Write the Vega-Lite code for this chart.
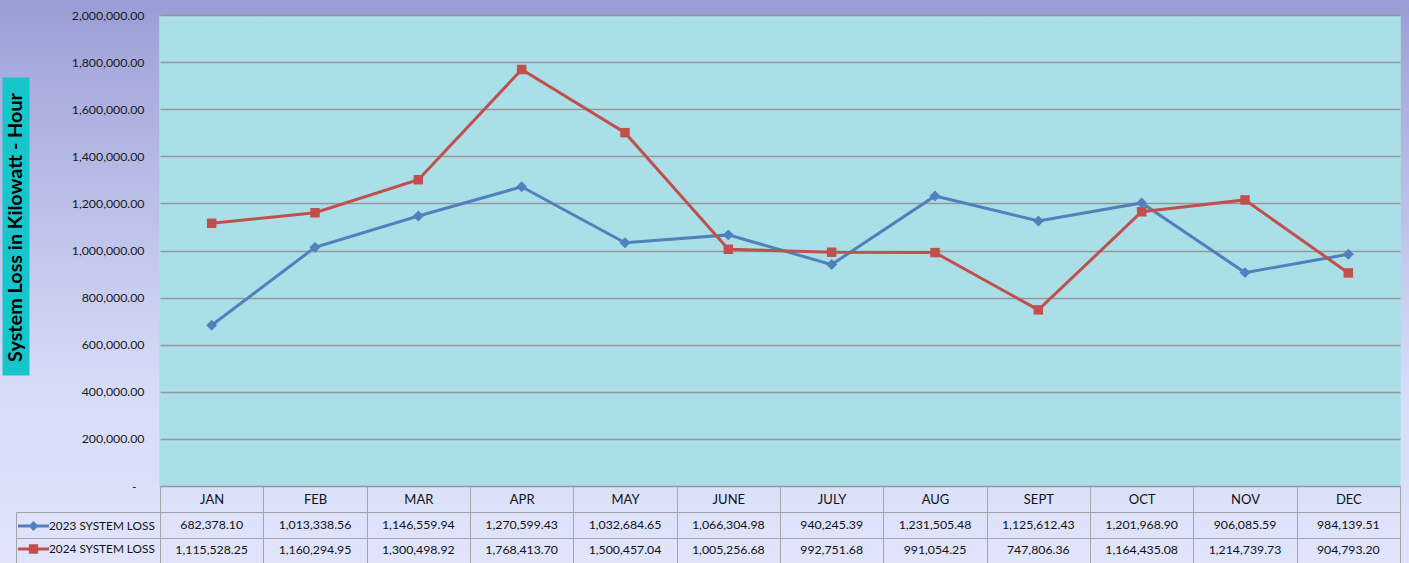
{
  "$schema": "https://vega.github.io/schema/vega-lite/v6.json",
  "width": 1409,
  "height": 563,
  "autosize": {"type": "none"},
  "padding": 0,
  "background": "#c2c7ef",
  "config": {
    "font": "Lato",
    "view": {
      "stroke": null,
      "fill": {
        "gradient": "linear", "x1": 0, "y1": 0, "x2": 0, "y2": 1,
        "stops": [
          {"offset": 0, "color": "#989cd4"},
          {"offset": 0.11, "color": "#a6a9dc"},
          {"offset": 0.67, "color": "#d5daf7"},
          {"offset": 1, "color": "#e0e5fc"}
        ]
      }
    }
  },
  "data": {
    "values": [
      {"month": "JAN", "series": "2023 SYSTEM LOSS", "value": 682378.10},
      {"month": "FEB", "series": "2023 SYSTEM LOSS", "value": 1013338.56},
      {"month": "MAR", "series": "2023 SYSTEM LOSS", "value": 1146559.94},
      {"month": "APR", "series": "2023 SYSTEM LOSS", "value": 1270599.43},
      {"month": "MAY", "series": "2023 SYSTEM LOSS", "value": 1032684.65},
      {"month": "JUNE", "series": "2023 SYSTEM LOSS", "value": 1066304.98},
      {"month": "JULY", "series": "2023 SYSTEM LOSS", "value": 940245.39},
      {"month": "AUG", "series": "2023 SYSTEM LOSS", "value": 1231505.48},
      {"month": "SEPT", "series": "2023 SYSTEM LOSS", "value": 1125612.43},
      {"month": "OCT", "series": "2023 SYSTEM LOSS", "value": 1201968.90},
      {"month": "NOV", "series": "2023 SYSTEM LOSS", "value": 906085.59},
      {"month": "DEC", "series": "2023 SYSTEM LOSS", "value": 984139.51},
      {"month": "JAN", "series": "2024 SYSTEM LOSS", "value": 1115528.25},
      {"month": "FEB", "series": "2024 SYSTEM LOSS", "value": 1160294.95},
      {"month": "MAR", "series": "2024 SYSTEM LOSS", "value": 1300498.92},
      {"month": "APR", "series": "2024 SYSTEM LOSS", "value": 1768413.70},
      {"month": "MAY", "series": "2024 SYSTEM LOSS", "value": 1500457.04},
      {"month": "JUNE", "series": "2024 SYSTEM LOSS", "value": 1005256.68},
      {"month": "JULY", "series": "2024 SYSTEM LOSS", "value": 992751.68},
      {"month": "AUG", "series": "2024 SYSTEM LOSS", "value": 991054.25},
      {"month": "SEPT", "series": "2024 SYSTEM LOSS", "value": 747806.36},
      {"month": "OCT", "series": "2024 SYSTEM LOSS", "value": 1164435.08},
      {"month": "NOV", "series": "2024 SYSTEM LOSS", "value": 1214739.73},
      {"month": "DEC", "series": "2024 SYSTEM LOSS", "value": 904793.20}
    ]
  },
  "layer": [
    {
      "encoding": {
        "x": {
          "field": "month", "type": "nominal",
          "sort": ["JAN","FEB","MAR","APR","MAY","JUNE","JULY","AUG","SEPT","OCT","NOV","DEC"],
          "scale": {"domain": ["JAN","FEB","MAR","APR","MAY","JUNE","JULY","AUG","SEPT","OCT","NOV","DEC"], "range": [160, 1400], "paddingInner": 0, "paddingOuter": 0},
          "axis": {"orient": "top", "title": null, "labels": false, "ticks": false, "domain": false, "grid": true, "gridColor": "#abdfe8", "gridWidth": 104.6, "gridOpacity": 1, "tickBand": "center", "bandPosition": 0.5}
        },
        "y": {
          "field": "value", "type": "quantitative",
          "scale": {"domain": [0, 2000000], "range": [486, 15], "nice": false},
          "axis": {
            "orient": "left", "offset": -150, "title": null,
            "values": [0, 200000, 400000, 600000, 800000, 1000000, 1200000, 1400000, 1600000, 1800000, 2000000],
            "labelExpr": "datum.value === 0 ? '-' : format(datum.value, ',.2f')",
            "labelFontSize": 12.3, "labelColor": "#1a1a1a", "labelPadding": {"expr": "datum.value === 0 ? 14 : 6"}, "labelOverlap": false,
            "ticks": false, "tickSize": 0, "domain": false,
            "grid": true, "gridColor": "#969696", "gridWidth": 1.5, "gridOpacity": 1
          }
        }
      },
      "layer": [
        {"transform": [{"filter": "datum.series === '2023 SYSTEM LOSS'"}], "mark": {"type": "line", "color": "#4F81BD", "strokeWidth": 3}},
        {"transform": [{"filter": "datum.series === '2023 SYSTEM LOSS'"}], "mark": {"type": "point", "shape": "diamond", "filled": true, "size": 120, "color": "#4F81BD", "opacity": 1}},
        {"transform": [{"filter": "datum.series === '2024 SYSTEM LOSS'"}], "mark": {"type": "line", "color": "#C0504D", "strokeWidth": 3}},
        {"transform": [{"filter": "datum.series === '2024 SYSTEM LOSS'"}], "mark": {"type": "point", "shape": "square", "filled": true, "size": 90, "color": "#C0504D", "opacity": 1}}
      ]
    },
    {
      "mark": {"type": "text", "fontSize": 12.3, "color": "#111111", "font": "Lato"},
      "encoding": {
        "x": {
          "field": "month", "type": "nominal",
          "sort": ["JAN","FEB","MAR","APR","MAY","JUNE","JULY","AUG","SEPT","OCT","NOV","DEC"],
          "scale": {"domain": ["JAN","FEB","MAR","APR","MAY","JUNE","JULY","AUG","SEPT","OCT","NOV","DEC"], "range": [160, 1400], "paddingInner": 0, "paddingOuter": 0},
          "axis": {"orient": "top", "offset": -512, "title": null, "domain": true, "domainColor": "#a3a3ad", "ticks": true, "tickBand": "extent", "tickSize": 26, "tickColor": "#a3a3ad", "grid": true, "gridColor": "#a3a3ad", "gridWidth": 1, "gridOpacity": 1, "labelFontSize": 13, "labelColor": "#111111", "labelBaseline": "middle", "labelPadding": -13, "labelAngle": 0}
        },
        "y": {
          "field": "series", "type": "nominal",
          "scale": {"domain": ["2023 SYSTEM LOSS", "2024 SYSTEM LOSS"], "range": [512, 563], "paddingInner": 0, "paddingOuter": 0},
          "axis": {"orient": "left", "offset": -16, "title": null, "labels": false, "domain": true, "domainColor": "#a3a3ad", "ticks": true, "tickBand": "extent", "tickSize": -144, "tickColor": "#a3a3ad", "grid": true, "gridColor": "#a3a3ad", "gridWidth": 1, "gridOpacity": 1}
        },
        "text": {"field": "value", "type": "quantitative", "format": ",.2f"}
      }
    },
    {
      "mark": {"type": "point", "filled": true, "opacity": 0},
      "encoding": {
        "y": {
          "datum": 0.5, "type": "quantitative",
          "scale": {"domain": [0, 1], "range": [375, 77]},
          "axis": {"orient": "left", "offset": -15.5, "title": "System Loss in Kilowatt - Hour", "titleX": 0, "titleY": 227, "titleAngle": 270, "titleAlign": "center", "titleBaseline": "middle", "titleFontSize": 19.8, "titleFontWeight": "bold", "titleColor": "#000000", "titleFont": "Lato", "labels": false, "ticks": false, "grid": false, "domain": true, "domainColor": "#17c6cb", "domainWidth": 27}
        },
        "color": {
          "field": "series", "type": "nominal",
          "scale": {"domain": ["2023 SYSTEM LOSS", "2024 SYSTEM LOSS"], "range": ["#4F81BD", "#C0504D"]},
          "legend": {"orient": "none", "legendX": 18, "legendY": 510.5, "title": null, "padding": 0, "symbolSize": 961, "symbolStrokeWidth": 0, "symbolOpacity": 1, "labelOffset": 0, "rowPadding": -4, "labelFontSize": 11.8, "labelColor": "#111111", "labelFont": "Lato"}
        },
        "shape": {
          "field": "series", "type": "nominal",
          "scale": {"domain": ["2023 SYSTEM LOSS", "2024 SYSTEM LOSS"], "range": ["M-1,-0.1H1V0.1H-1Z M0,-0.32L0.32,0L0,0.32L-0.32,0Z", "M-1,-0.1H1V0.1H-1Z M-0.3,-0.3H0.3V0.3H-0.3Z"]},
          "legend": {"orient": "none", "legendX": 18, "legendY": 510.5, "title": null, "padding": 0, "symbolSize": 961, "symbolStrokeWidth": 0, "symbolOpacity": 1, "labelOffset": 0, "rowPadding": -4, "labelFontSize": 11.8, "labelColor": "#111111", "labelFont": "Lato"}
        }
      }
    }
  ],
  "resolve": {
    "scale": {"x": "independent", "y": "independent"},
    "axis": {"x": "independent", "y": "independent"}
  }
}
